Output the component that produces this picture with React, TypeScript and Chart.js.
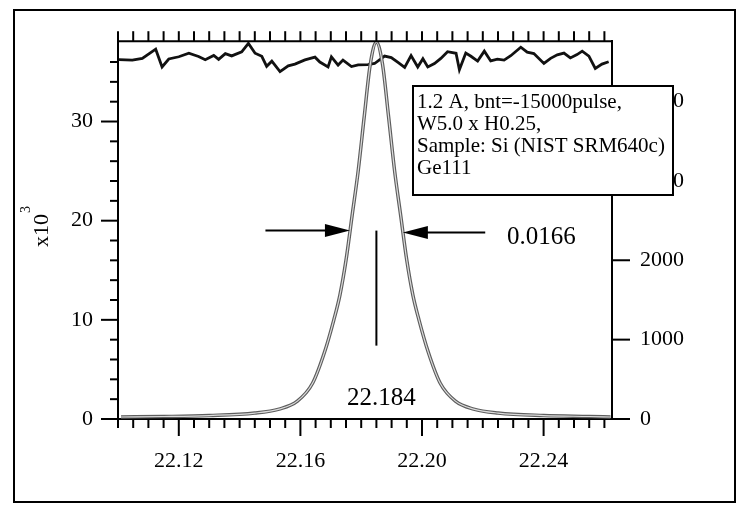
import React, { useEffect, useRef } from 'react';
import { Chart, registerables } from 'chart.js';

Chart.register(...registerables);

// ---- data ----
// main peak, intensity in x10^3 counts (left axis)
const peakX = [
  22.101, 22.115, 22.130, 22.145, 22.153, 22.159, 22.164, 22.168, 22.171, 22.173,
  22.175, 22.177, 22.179, 22.181, 22.183, 22.185, 22.187, 22.189, 22.191, 22.193,
  22.195, 22.197, 22.199, 22.202, 22.206, 22.211, 22.217, 22.225, 22.240, 22.255, 22.262,
];
const peakY = [
  0.2, 0.25, 0.35, 0.6, 1.0, 1.8, 3.6, 6.8, 10, 12.5,
  16, 20.5, 25, 30.5, 35.8, 38.0, 35.8, 30.5, 25, 20.5,
  16, 12.5, 10, 6.8, 3.6, 1.8, 1.0, 0.6, 0.35, 0.25, 0.2,
];
// noisy trace at the top, counts (right axis)
const traceX = [
  22.1003, 22.1047, 22.1080, 22.1124, 22.1145, 22.1167, 22.1200, 22.1233, 22.1265, 22.1287,
  22.1315, 22.1331, 22.1353, 22.1374, 22.1407, 22.1429, 22.1451, 22.1473, 22.1489, 22.1506,
  22.1533, 22.1560, 22.1582, 22.1615, 22.1648, 22.1664, 22.1691, 22.1702, 22.1724, 22.1740,
  22.1768, 22.1790, 22.1822, 22.1844, 22.1877, 22.1899, 22.1921, 22.1943, 22.1964, 22.1986,
  22.2003, 22.2019, 22.2041, 22.2062, 22.2084, 22.2112, 22.2123, 22.2144, 22.2161, 22.2183,
  22.2205, 22.2226, 22.2248, 22.2270, 22.2292, 22.2325, 22.2346, 22.2368, 22.2401, 22.2423,
  22.2445, 22.2467, 22.2488, 22.2510, 22.2527, 22.2549, 22.2570, 22.2592, 22.2614,
];
const traceY = [
  4527, 4521, 4544, 4659, 4435, 4536, 4564, 4609, 4568, 4527,
  4580, 4531, 4604, 4575, 4626, 4732, 4609, 4569, 4444, 4508,
  4376, 4449, 4471, 4524, 4559, 4497, 4436, 4562, 4459, 4522,
  4441, 4462, 4465, 4479, 4572, 4554, 4492, 4431, 4579, 4434,
  4539, 4436, 4479, 4543, 4628, 4608, 4401, 4610, 4570, 4509,
  4635, 4511, 4534, 4522, 4577, 4684, 4622, 4604, 4480, 4544,
  4588, 4610, 4549, 4591, 4634, 4572, 4416, 4471, 4501,
];

const xTickValues = [22.12, 22.16, 22.2, 22.24];
const xTickLabels = ['22.12', '22.16', '22.20', '22.24'];
const leftTickValues = [0, 10, 20, 30];
const leftTickLabels = ['0', '10', '20', '30'];
const rightTickValues = [0, 1000, 2000, 3000, 4000];
const rightTickLabels = ['0', '1000', '2000', '3000', '4000'];

const infoLines = ['1.2 A, bnt=-15000pulse,', 'W5.0 x H0.25,', 'Sample: Si (NIST SRM640c)', 'Ge111'];
const fwhmText = '0.0166';
const peakText = '22.184';
const axisTitle = 'x10';
const axisTitleSup = '3';

const peakCenter = 22.185;
const halfMax = 19.0;
const fwhmLeft = 22.1763;
const fwhmRight = 22.1937;

const FONT = '"Liberation Serif", "Times New Roman", serif';

function line(ctx: CanvasRenderingContext2D, x1: number, y1: number, x2: number, y2: number) {
  ctx.beginPath();
  ctx.moveTo(x1, y1);
  ctx.lineTo(x2, y2);
  ctx.stroke();
}

function arrow(ctx: CanvasRenderingContext2D, tailX: number, y: number, tipX: number) {
  const dir = tipX > tailX ? 1 : -1;
  const headLen = 25;
  const half = 6.5;
  line(ctx, tailX, y, tipX - dir * headLen + dir * 2, y);
  ctx.beginPath();
  ctx.moveTo(tipX, y);
  ctx.lineTo(tipX - dir * headLen, y - half);
  ctx.lineTo(tipX - dir * headLen, y + half);
  ctx.closePath();
  ctx.fill();
}

const overlay = {
  id: 'overlay',
  afterDraw(chart: any) {
    const ctx: CanvasRenderingContext2D = chart.ctx;
    const xs = chart.scales.x;
    const yl = chart.scales.y;
    const yr = chart.scales.y2;
    const { left, right, top, bottom } = chart.chartArea;
    ctx.save();
    ctx.strokeStyle = '#000';
    ctx.fillStyle = '#000';
    ctx.lineWidth = 2;

    // outer frame
    ctx.strokeRect(14, 10, 721, 492);

    // top axis line
    line(ctx, left - 1, top, right + 1, top);

    // x ticks (bottom: major/minor, top: uniform)
    for (let i = 0; i <= 32; i++) {
      const v = 22.1 + i * 0.005;
      const px = xs.getPixelForValue(v);
      const major = xTickValues.some((t) => Math.abs(t - v) < 1e-6);
      line(ctx, px, bottom, px, bottom + (major ? 17 : 9));
      line(ctx, px, top, px, top - 10);
    }
    // left ticks
    for (let v = 0; v <= 36; v += 2) {
      const py = yl.getPixelForValue(v);
      const major = v % 10 === 0;
      line(ctx, left, py, left - (major ? 17 : 8), py);
    }
    // right ticks
    for (const v of rightTickValues) {
      const py = yr.getPixelForValue(v);
      line(ctx, right, py, right + 18, py);
    }

    // FWHM arrows
    const yHalf = yl.getPixelForValue(halfMax);
    arrow(ctx, xs.getPixelForValue(22.1485), yHalf, xs.getPixelForValue(fwhmLeft));
    arrow(ctx, xs.getPixelForValue(22.2208), yHalf + 2, xs.getPixelForValue(fwhmRight));
    ctx.font = `25px ${FONT}`;
    ctx.textBaseline = 'middle';
    ctx.textAlign = 'left';
    ctx.fillText(fwhmText, xs.getPixelForValue(22.228), yHalf + 7);

    // peak position marker
    const pc = xs.getPixelForValue(peakCenter);
    line(ctx, pc, yHalf, pc, yl.getPixelForValue(7.4));
    ctx.textAlign = 'center';
    ctx.fillText(peakText, pc + 5, yl.getPixelForValue(2.1));

    // info box (covers right-axis labels, as in the original)
    const bx = 413, by = 86, bw = 260, bh = 109;
    ctx.fillStyle = '#fff';
    ctx.fillRect(bx, by, bw, bh);
    ctx.strokeRect(bx, by, bw, bh);
    ctx.fillStyle = '#000';
    ctx.font = `21px ${FONT}`;
    ctx.textAlign = 'left';
    ctx.textBaseline = 'alphabetic';
    infoLines.forEach((t, i) => ctx.fillText(t, bx + 4, by + 22 + i * 22));

    // y axis title x10^3
    ctx.save();
    ctx.translate(48, 247);
    ctx.rotate(-Math.PI / 2);
    ctx.font = `22px ${FONT}`;
    ctx.fillText(axisTitle, 0, 0);
    const w = ctx.measureText(axisTitle).width;
    ctx.font = `14px ${FONT}`;
    ctx.fillText(axisTitleSup, w + 1, -18);
    ctx.restore();

    ctx.restore();
  },
};

export default function App() {
  const ref = useRef<HTMLCanvasElement>(null);

  useEffect(() => {
    if (!ref.current) return;
    const tickFont = { family: FONT, size: 22 };
    const chart = new Chart(ref.current, {
      type: 'line',
      data: {
        datasets: [
          {
            data: traceX.map((x, i) => ({ x, y: traceY[i] })),
            yAxisID: 'y2',
            borderColor: '#111',
            borderWidth: 2.8,
            pointRadius: 0,
            tension: 0,
            order: 3,
          },
          {
            data: peakX.map((x, i) => ({ x, y: peakY[i] })),
            yAxisID: 'y',
            borderColor: '#5e5e5e',
            borderWidth: 3.5,
            pointRadius: 0,
            cubicInterpolationMode: 'monotone',
            order: 2,
          },
          {
            data: peakX.map((x, i) => ({ x, y: peakY[i] })),
            yAxisID: 'y',
            borderColor: '#dcdcdc',
            borderWidth: 1.2,
            pointRadius: 0,
            cubicInterpolationMode: 'monotone',
            order: 1,
          },
        ],
      },
      options: {
        animation: false,
        responsive: false,
        devicePixelRatio: 1,
        parsing: true,
        layout: { padding: { top: 38, left: 0, right: 0, bottom: 0 } },
        plugins: { legend: { display: false }, tooltip: { enabled: false } },
        scales: {
          x: {
            type: 'linear',
            position: 'bottom',
            min: 22.1,
            max: 22.2625,
            grid: { display: false, drawTicks: false },
            border: { display: true, color: '#000', width: 2 },
            afterBuildTicks: (s: any) => {
              s.ticks = xTickValues.map((v) => ({ value: v }));
            },
            afterFit: (s: any) => {
              s.height = 93;
            },
            ticks: {
              font: tickFont,
              color: '#000',
              padding: 29,
              maxRotation: 0,
              autoSkip: false,
              callback: (v: any) => {
                const i = xTickValues.findIndex((t) => Math.abs(t - Number(v)) < 1e-6);
                return i >= 0 ? xTickLabels[i] : '';
              },
            },
          },
          y: {
            type: 'linear',
            position: 'left',
            min: 0,
            max: 38.1,
            grid: { display: false, drawTicks: false },
            border: { display: true, color: '#000', width: 2 },
            afterBuildTicks: (s: any) => {
              s.ticks = leftTickValues.map((v) => ({ value: v }));
            },
            afterFit: (s: any) => {
              s.width = 118;
            },
            ticks: {
              font: tickFont,
              color: '#000',
              padding: 25,
              autoSkip: false,
              callback: (v: any) => {
                const i = leftTickValues.indexOf(Number(v));
                return i >= 0 ? leftTickLabels[i] : '';
              },
            },
          },
          y2: {
            type: 'linear',
            position: 'right',
            min: 0,
            max: 4760,
            grid: { display: false, drawTicks: false },
            border: { display: true, color: '#000', width: 2 },
            afterBuildTicks: (s: any) => {
              s.ticks = rightTickValues.map((v) => ({ value: v }));
            },
            afterFit: (s: any) => {
              s.width = 132;
            },
            ticks: {
              font: tickFont,
              color: '#000',
              padding: 28,
              autoSkip: false,
              callback: (v: any) => {
                const i = rightTickValues.indexOf(Number(v));
                return i >= 0 ? rightTickLabels[i] : '';
              },
            },
          },
        },
      },
      plugins: [overlay],
    } as any);
    return () => chart.destroy();
  }, []);

  return (
    <div style={{ position: 'absolute', left: 0, top: 0, width: 744, height: 512, background: '#fff' }}>
      <canvas ref={ref} width={744} height={512} style={{ display: 'block', width: 744, height: 512 }} />
    </div>
  );
}
